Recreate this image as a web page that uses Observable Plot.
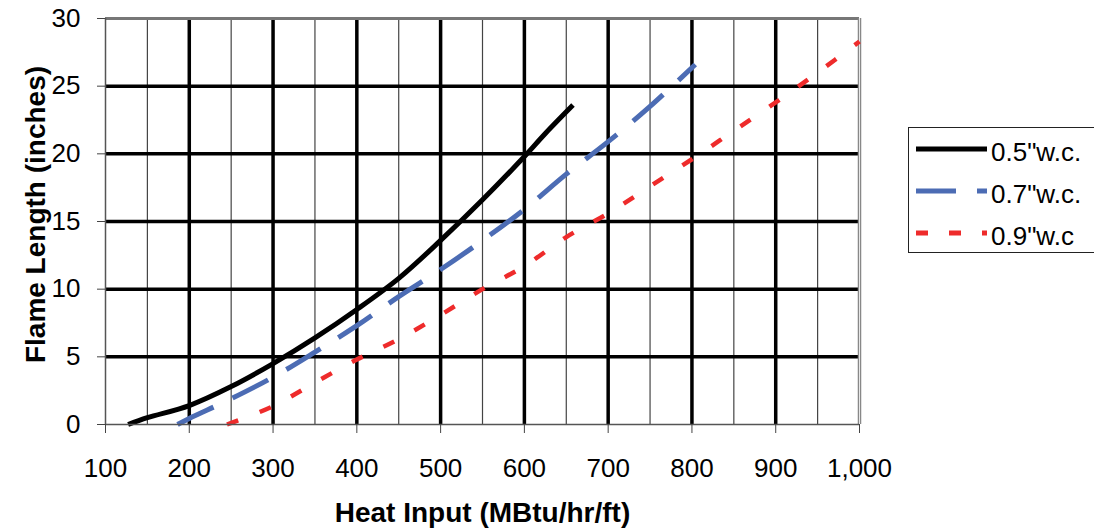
<!DOCTYPE html>
<html><head><meta charset="utf-8">
<script src="https://cdn.jsdelivr.net/npm/d3@7"></script>
<script src="https://cdn.jsdelivr.net/npm/@observablehq/plot@0.6"></script>
<style>
body{margin:0;background:#fff;font-family:"Liberation Sans",Arial,sans-serif;}
#wrap{position:relative;width:1094px;height:529px;overflow:hidden;background:#fff}
#legend{position:absolute;left:908px;top:127px;width:200px;height:126px;border:1.5px solid #222;box-sizing:border-box;background:#fff}
#legend svg{position:absolute;left:0;top:0}
</style></head>
<body>
<div id="wrap"></div>
<script>
// ---- data ----
const xTicks = [100, 200, 300, 400, 500, 600, 700, 800, 900, 1000];
const xMinor = [150, 250, 350, 450, 550, 650, 750, 850, 950];
const yTicks = [0, 5, 10, 15, 20, 25, 30];
const seriesNames = ["0.5\"w.c.", "0.7\"w.c.", "0.9\"w.c"];

const heat05  = [127, 150, 200, 250, 300, 350, 400, 450, 500, 550, 600, 625, 658];
const flame05 = [0, 0.5, 1.4, 2.8, 4.5, 6.4, 8.5, 10.8, 13.6, 16.6, 19.8, 21.5, 23.6];

const heat07  = [186, 200, 250, 300, 350, 400, 450, 500, 550, 600, 650, 700, 750, 804];
const flame07 = [0, 0.45, 1.9, 3.5, 5.35, 7.3, 9.45, 11.45, 13.6, 15.9, 18.5, 20.9, 23.5, 26.6];

const heat09  = [245, 300, 350, 400, 450, 500, 550, 600, 650, 700, 750, 800, 850, 900, 950, 1000];
const flame09 = [0, 1.35, 3.1, 4.8, 6.3, 8.1, 10.0, 11.7, 13.85, 15.6, 17.6, 19.6, 21.7, 23.8, 26.0, 28.3];

// ---- build ----
const toRows = (hs, fs) => hs.map((h, i) => ({heat: h, flame: fs[i]}));
const s05 = toRows(heat05, flame05);
const s07 = toRows(heat07, flame07);
const s09 = toRows(heat09, flame09);

const xMajorInner = xTicks.slice(1, -1);
const yInner = yTicks.slice(1, -1);
const xMax = xTicks[xTicks.length - 1];
const yMax = yTicks[yTicks.length - 1];

const font = '"Liberation Sans", Arial, sans-serif';

const chart = Plot.plot({
  width: 1094,
  height: 529,
  marginLeft: 105,
  marginRight: 235,
  marginTop: 18,
  marginBottom: 105,
  style: {fontFamily: font, fontSize: "26px", color: "#000", background: "#fff"},
  x: {domain: [100, 1000], type: "linear"},
  y: {domain: [0, 30]},
  marks: [
    Plot.ruleX(xMinor, {stroke: "#444", strokeWidth: 1.2}),
    Plot.ruleX(xMajorInner, {stroke: "#000", strokeWidth: 3.5}),
    Plot.ruleY(yInner, {stroke: "#000", strokeWidth: 3.5}),
    Plot.ruleY([yMax], {stroke: "#777", strokeWidth: 3}),
    Plot.ruleX([xMax], {stroke: "#888", strokeWidth: 3.5}),
    Plot.ruleX([xMax], {stroke: "#fff", strokeWidth: 0.8}),
    Plot.line(s05, {x: "heat", y: "flame", stroke: "#000", strokeWidth: 5, curve: "catmull-rom", strokeLinecap: "butt"}),
    Plot.line(s07, {x: "heat", y: "flame", stroke: "#4c6cb4", strokeWidth: 5, curve: "catmull-rom", strokeDasharray: "40,21", strokeLinecap: "butt"}),
    Plot.line(s09, {x: "heat", y: "flame", stroke: "#ee2b2b", strokeWidth: 4.5, curve: "catmull-rom", strokeDasharray: "12,23", strokeLinecap: "butt"}),
    Plot.ruleX([100], {stroke: "#555", strokeWidth: 1.5}),
    Plot.ruleY([0], {stroke: "#555", strokeWidth: 1.5}),
    Plot.axisX({ticks: xTicks, tickFormat: d3.format(","), tickSize: 9, tickPadding: 25, label: null, fontSize: 26, stroke: "#444"}),
    Plot.axisY({ticks: yTicks, tickSize: 8, tickPadding: 17, label: null, fontSize: 26, stroke: "#444"}),
    Plot.text(["Heat Input (MBtu/hr/ft)"], {frameAnchor: "bottom", dy: 89, textAnchor: "middle", lineAnchor: "middle", fontWeight: "bold", fontSize: 28, fill: "#000"}),
    Plot.text(["Flame Length (inches)"], {frameAnchor: "left", dx: -69, dy: -7, rotate: -90, textAnchor: "middle", lineAnchor: "middle", fontWeight: "bold", fontSize: 28, fill: "#000"})
  ]
});

const wrap = document.getElementById("wrap");
wrap.appendChild(chart);

// legend
const leg = document.createElement("div");
leg.id = "legend";
const ns = "http://www.w3.org/2000/svg";
const lsvg = document.createElementNS(ns, "svg");
lsvg.setAttribute("width", 200);
lsvg.setAttribute("height", 126);
const legStyles = [
  {stroke: "#000", width: 5, dash: null, y: 21},
  {stroke: "#4c6cb4", width: 5, dash: "40,21", y: 63},
  {stroke: "#ee2b2b", width: 5, dash: "12,21", y: 105}
];
legStyles.forEach((s, i) => {
  const ln = document.createElementNS(ns, "line");
  ln.setAttribute("x1", 7); ln.setAttribute("x2", 78);
  ln.setAttribute("y1", s.y); ln.setAttribute("y2", s.y);
  ln.setAttribute("stroke", s.stroke);
  ln.setAttribute("stroke-width", s.width);
  if (s.dash) ln.setAttribute("stroke-dasharray", s.dash);
  lsvg.appendChild(ln);
  const t = document.createElementNS(ns, "text");
  t.setAttribute("x", 82);
  t.setAttribute("y", s.y + 3);
  t.setAttribute("dy", "0.35em");
  t.setAttribute("font-family", font);
  t.setAttribute("font-size", 26);
  t.textContent = seriesNames[i];
  lsvg.appendChild(t);
});
leg.appendChild(lsvg);
wrap.appendChild(leg);
</script>
</body></html>
